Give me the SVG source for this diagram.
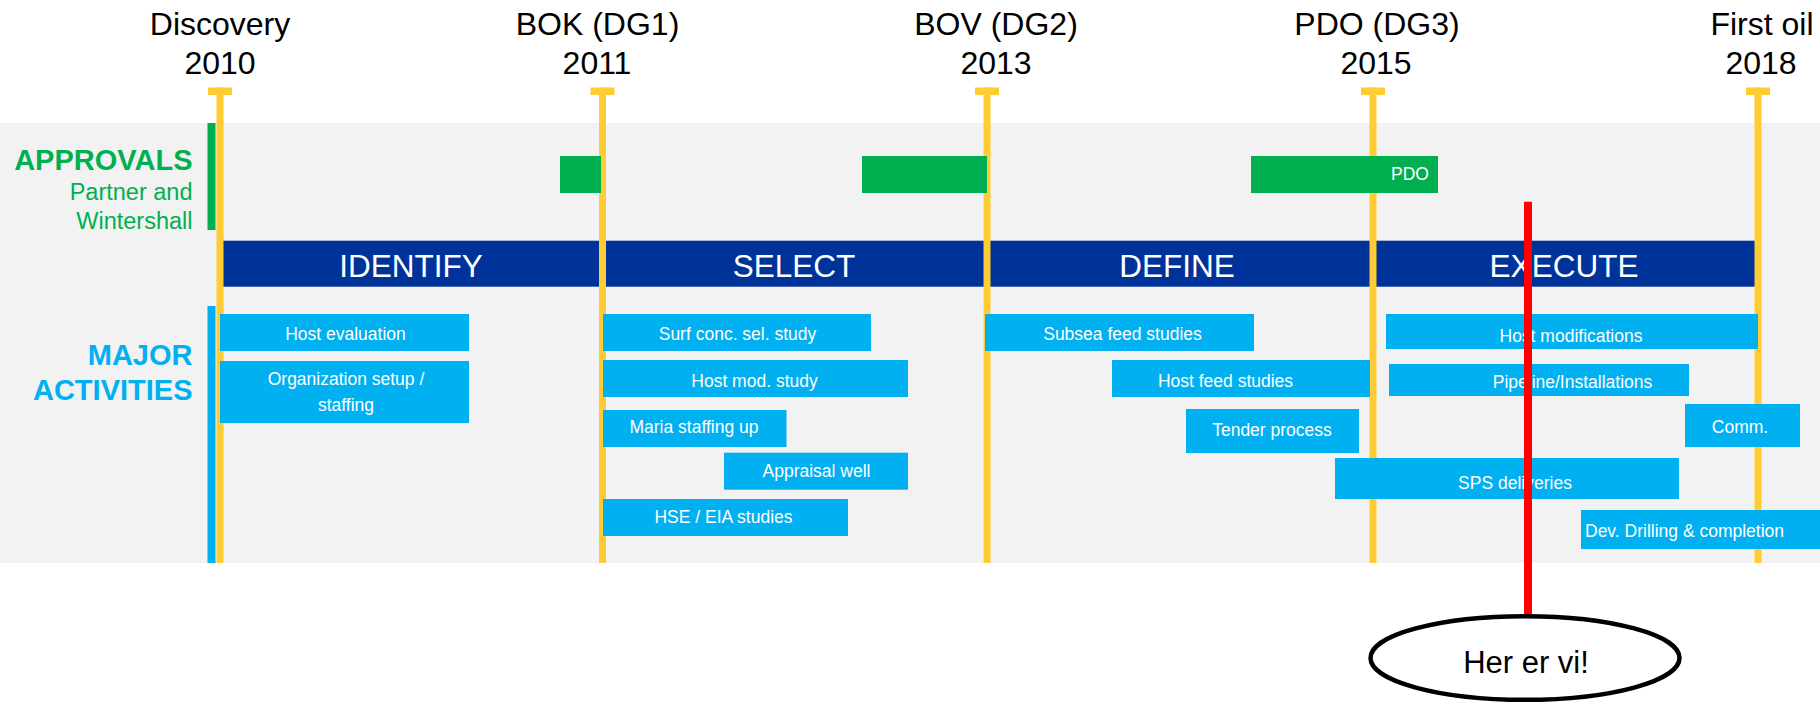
<svg xmlns="http://www.w3.org/2000/svg" width="1820" height="706" viewBox="0 0 1820 706">
<style>
text{font-family:"Liberation Sans",Arial,sans-serif}
.hdr{font-size:32px;fill:#000;text-anchor:middle}
.phase{font-size:31.5px;fill:#fff;text-anchor:middle}
.act rect{fill:#00B0F0}
.act text,.atxt{font-size:17.5px;fill:#fff;text-anchor:middle}
.yl{fill:#FFCC33}
.appr{fill:#00B050}
.lblg{fill:#00B050;text-anchor:end}
.lblb{fill:#00B0F0;text-anchor:end;font-weight:bold;font-size:29px}
</style>
<rect x="0" y="0" width="1820" height="706" fill="#fff"/>
<rect id="band" x="0" y="123" width="1820" height="440" fill="#F2F2F2"/>

<g id="approvals-label">
<rect x="207.5" y="123" width="8" height="107" fill="#00B050"/>
<text class="lblg" x="192.5" y="170" font-weight="bold" font-size="29">APPROVALS</text>
<text class="lblg" x="192.5" y="200" font-size="23.5">Partner and</text>
<text class="lblg" x="192.5" y="228.5" font-size="23.5">Wintershall</text>
</g>
<g id="activities-label">
<rect x="207.5" y="306" width="8" height="257" fill="#00B0F0"/>
<text class="lblb" x="192.5" y="365">MAJOR</text>
<text class="lblb" x="192.5" y="399.5">ACTIVITIES</text>
</g>

<g id="phases">
<rect x="220" y="240.7" width="1538" height="46" fill="#003399"/>
<text class="phase" x="411" y="276.7">IDENTIFY</text>
<text class="phase" x="794" y="276.7">SELECT</text>
<text class="phase" x="1177" y="276.7">DEFINE</text>
<text class="phase" x="1564" y="276.7">EXECUTE</text>
</g>

<g id="milestone-discovery">
<text class="hdr" x="220" y="35">Discovery</text>
<text class="hdr" x="220" y="74">2010</text>
<rect class="yl" x="208" y="87.5" width="24" height="7.5"/>
<rect class="yl" x="216.5" y="87.5" width="7" height="475.5"/>
</g>
<g id="milestone-bok">
<text class="hdr" x="597.5" y="35">BOK (DG1)</text>
<text class="hdr" x="597" y="74">2011</text>
<rect class="yl" x="590.5" y="87.5" width="24" height="7.5"/>
<rect class="yl" x="599" y="87.5" width="7" height="475.5"/>
</g>
<g id="milestone-bov">
<text class="hdr" x="996" y="35">BOV (DG2)</text>
<text class="hdr" x="996" y="74">2013</text>
<rect class="yl" x="975" y="87.5" width="24" height="7.5"/>
<rect class="yl" x="983.5" y="87.5" width="7" height="475.5"/>
</g>
<g id="milestone-pdo">
<text class="hdr" x="1377" y="35">PDO (DG3)</text>
<text class="hdr" x="1376" y="74">2015</text>
<rect class="yl" x="1361" y="87.5" width="24" height="7.5"/>
<rect class="yl" x="1369.5" y="87.5" width="7" height="475.5"/>
</g>
<g id="milestone-firstoil">
<text class="hdr" x="1762" y="35">First oil</text>
<text class="hdr" x="1761" y="74">2018</text>
<rect class="yl" x="1746" y="87.5" width="24" height="7.5"/>
<rect class="yl" x="1754.5" y="87.5" width="7" height="475.5"/>
</g>

<g id="approval-bok"><rect class="appr" x="560" y="156" width="41" height="37"/></g>
<g id="approval-bov"><rect class="appr" x="862" y="156" width="125" height="37"/></g>
<g id="approval-pdo"><rect class="appr" x="1251" y="156" width="187" height="37"/>
<text x="1391" y="180" font-size="17.5" fill="#fff">PDO</text></g>

<g id="act-host-eval" class="act"><rect x="220" y="314" width="249" height="37"/><text x="345.5" y="339.5">Host evaluation</text></g>
<g id="act-org" class="act"><rect x="220" y="361" width="249" height="62"/><text x="346" y="385">Organization setup /</text><text x="346" y="411">staffing</text></g>
<g id="act-surf" class="act"><rect x="603" y="314" width="268" height="37"/><text x="737.5" y="340">Surf conc. sel. study</text></g>
<g id="act-hostmod" class="act"><rect x="603" y="360" width="305" height="37"/><text x="754.5" y="386.5">Host mod. study</text></g>
<g id="act-maria" class="act"><rect x="603" y="410" width="183.5" height="37"/><text x="694" y="433">Maria staffing up</text></g>
<g id="act-appraisal" class="act"><rect x="724" y="452.7" width="184" height="37"/><text x="816.5" y="477">Appraisal well</text></g>
<g id="act-hse" class="act"><rect x="603" y="499" width="245" height="37"/><text x="723.5" y="523">HSE / EIA studies</text></g>
<g id="act-subsea" class="act"><rect x="985" y="314" width="269" height="37"/><text x="1122.5" y="340">Subsea feed studies</text></g>
<g id="act-hostfeed" class="act"><rect x="1112" y="360" width="258" height="37"/><text x="1225.5" y="386.5">Host feed studies</text></g>
<g id="act-tender" class="act"><rect x="1186" y="409" width="173" height="44"/><text x="1272" y="435.5">Tender process</text></g>
<g id="act-hostmods" class="act"><rect x="1386" y="314" width="372" height="35"/><text x="1571" y="341.5">Host modifications</text></g>
<g id="act-pipeline" class="act"><rect x="1389" y="364" width="300" height="32"/><text x="1572.5" y="387.5">Pipeline/Installations</text></g>
<g id="act-comm" class="act"><rect x="1685" y="404" width="115" height="43"/><text x="1740" y="432.5">Comm.</text></g>
<g id="act-sps" class="act"><rect x="1335" y="458" width="344" height="41"/><text x="1515" y="488.5">SPS deliveries</text></g>
<g id="act-dev" class="act"><rect x="1581" y="510" width="239" height="39"/><text x="1585" y="536.7" style="text-anchor:start">Dev. Drilling &amp; completion</text></g>

<g id="connectors">
<line x1="1528" y1="201.7" x2="1528" y2="614" stroke="#FF0000" stroke-width="8"/>
</g>

<g id="here">
<ellipse cx="1525" cy="658" rx="154.5" ry="41.8" fill="#fff" stroke="#000" stroke-width="4.5"/>
<text x="1526" y="673" font-size="31" fill="#000" text-anchor="middle">Her er vi!</text>
</g>
</svg>
